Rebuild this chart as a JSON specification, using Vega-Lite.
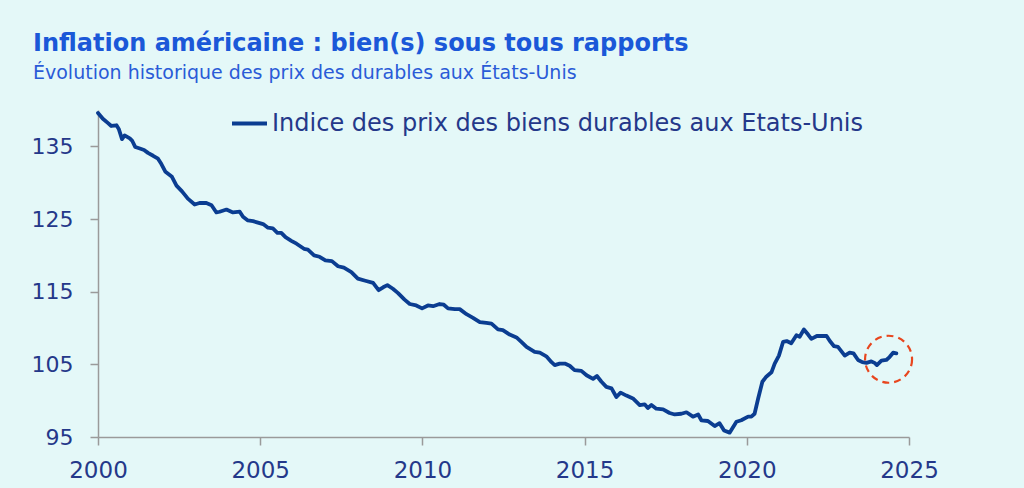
{
  "$schema": "https://vega.github.io/schema/vega-lite/v6.json",
  "width": 811,
  "height": 327,
  "autosize": "none",
  "padding": {"left": 98, "top": 110, "right": 115, "bottom": 51},
  "background": "#e4f8f8",
  "title": {
    "text": "Inflation américaine : bien(s) sous tous rapports",
    "subtitle": "Évolution historique des prix des durables aux États-Unis",
    "anchor": "start",
    "frame": "group",
    "dx": -65,
    "offset": 21,
    "font": "DejaVu Sans",
    "fontSize": 24,
    "fontWeight": "bold",
    "color": "#1b58d8",
    "subtitleFont": "DejaVu Sans",
    "subtitleFontSize": 19,
    "subtitleColor": "#2a5bd7",
    "subtitlePadding": 8
  },
  "config": {"view": {"stroke": null}},
  "layer": [
    {
      "data": {"values": [
        {"annee": 2000.0, "indice": 139.6},
        {"annee": 2000.15, "indice": 138.8},
        {"annee": 2000.31, "indice": 138.2},
        {"annee": 2000.41, "indice": 137.8},
        {"annee": 2000.57, "indice": 137.9},
        {"annee": 2000.64, "indice": 137.4},
        {"annee": 2000.74, "indice": 136.0},
        {"annee": 2000.82, "indice": 136.5},
        {"annee": 2000.98, "indice": 136.1},
        {"annee": 2001.05, "indice": 135.8},
        {"annee": 2001.15, "indice": 134.9},
        {"annee": 2001.29, "indice": 134.7},
        {"annee": 2001.42, "indice": 134.5},
        {"annee": 2001.54, "indice": 134.1},
        {"annee": 2001.70, "indice": 133.7},
        {"annee": 2001.85, "indice": 133.3},
        {"annee": 2001.95, "indice": 132.6},
        {"annee": 2002.08, "indice": 131.5},
        {"annee": 2002.28, "indice": 130.8},
        {"annee": 2002.42, "indice": 129.6},
        {"annee": 2002.59, "indice": 128.8},
        {"annee": 2002.77, "indice": 127.8},
        {"annee": 2002.98, "indice": 127.0},
        {"annee": 2003.13, "indice": 127.2},
        {"annee": 2003.34, "indice": 127.2},
        {"annee": 2003.50, "indice": 126.9},
        {"annee": 2003.65, "indice": 125.9},
        {"annee": 2003.75, "indice": 126.0},
        {"annee": 2003.96, "indice": 126.3},
        {"annee": 2004.16, "indice": 125.9},
        {"annee": 2004.37, "indice": 126.0},
        {"annee": 2004.47, "indice": 125.3},
        {"annee": 2004.62, "indice": 124.8},
        {"annee": 2004.78, "indice": 124.7},
        {"annee": 2004.93, "indice": 124.5},
        {"annee": 2005.09, "indice": 124.3},
        {"annee": 2005.24, "indice": 123.8},
        {"annee": 2005.39, "indice": 123.7},
        {"annee": 2005.53, "indice": 123.1},
        {"annee": 2005.65, "indice": 123.1},
        {"annee": 2005.78, "indice": 122.5},
        {"annee": 2005.96, "indice": 122.0},
        {"annee": 2006.12, "indice": 121.6},
        {"annee": 2006.35, "indice": 120.9},
        {"annee": 2006.47, "indice": 120.8},
        {"annee": 2006.66, "indice": 120.0},
        {"annee": 2006.83, "indice": 119.8},
        {"annee": 2007.01, "indice": 119.3},
        {"annee": 2007.21, "indice": 119.2},
        {"annee": 2007.40, "indice": 118.5},
        {"annee": 2007.58, "indice": 118.3},
        {"annee": 2007.81, "indice": 117.7},
        {"annee": 2008.01, "indice": 116.8},
        {"annee": 2008.24, "indice": 116.5},
        {"annee": 2008.48, "indice": 116.2},
        {"annee": 2008.65, "indice": 115.2},
        {"annee": 2008.79, "indice": 115.6},
        {"annee": 2008.92, "indice": 115.9},
        {"annee": 2009.09, "indice": 115.4},
        {"annee": 2009.25, "indice": 114.8},
        {"annee": 2009.45, "indice": 113.9},
        {"annee": 2009.61, "indice": 113.3},
        {"annee": 2009.81, "indice": 113.1},
        {"annee": 2009.99, "indice": 112.7},
        {"annee": 2010.17, "indice": 113.1},
        {"annee": 2010.33, "indice": 113.0},
        {"annee": 2010.53, "indice": 113.3},
        {"annee": 2010.66, "indice": 113.2},
        {"annee": 2010.79, "indice": 112.7},
        {"annee": 2011.00, "indice": 112.6},
        {"annee": 2011.15, "indice": 112.6},
        {"annee": 2011.36, "indice": 111.9},
        {"annee": 2011.56, "indice": 111.4},
        {"annee": 2011.77, "indice": 110.8},
        {"annee": 2011.97, "indice": 110.7},
        {"annee": 2012.13, "indice": 110.6},
        {"annee": 2012.33, "indice": 109.8},
        {"annee": 2012.48, "indice": 109.7},
        {"annee": 2012.69, "indice": 109.1},
        {"annee": 2012.90, "indice": 108.7},
        {"annee": 2013.05, "indice": 108.1},
        {"annee": 2013.21, "indice": 107.4},
        {"annee": 2013.46, "indice": 106.7},
        {"annee": 2013.62, "indice": 106.6},
        {"annee": 2013.82, "indice": 106.1},
        {"annee": 2013.98, "indice": 105.3},
        {"annee": 2014.08, "indice": 104.9},
        {"annee": 2014.23, "indice": 105.1},
        {"annee": 2014.39, "indice": 105.1},
        {"annee": 2014.54, "indice": 104.8},
        {"annee": 2014.69, "indice": 104.2},
        {"annee": 2014.90, "indice": 104.1},
        {"annee": 2015.06, "indice": 103.5},
        {"annee": 2015.26, "indice": 103.0},
        {"annee": 2015.38, "indice": 103.4},
        {"annee": 2015.52, "indice": 102.6},
        {"annee": 2015.67, "indice": 101.9},
        {"annee": 2015.83, "indice": 101.7},
        {"annee": 2015.98, "indice": 100.5},
        {"annee": 2016.11, "indice": 101.1},
        {"annee": 2016.29, "indice": 100.7},
        {"annee": 2016.49, "indice": 100.3},
        {"annee": 2016.70, "indice": 99.4},
        {"annee": 2016.85, "indice": 99.5},
        {"annee": 2016.95, "indice": 99.0},
        {"annee": 2017.06, "indice": 99.4},
        {"annee": 2017.21, "indice": 98.9},
        {"annee": 2017.42, "indice": 98.8},
        {"annee": 2017.62, "indice": 98.3},
        {"annee": 2017.78, "indice": 98.1},
        {"annee": 2017.98, "indice": 98.2},
        {"annee": 2018.14, "indice": 98.4},
        {"annee": 2018.34, "indice": 97.8},
        {"annee": 2018.50, "indice": 98.1},
        {"annee": 2018.60, "indice": 97.3},
        {"annee": 2018.80, "indice": 97.2},
        {"annee": 2019.01, "indice": 96.5},
        {"annee": 2019.16, "indice": 96.9},
        {"annee": 2019.30, "indice": 95.9},
        {"annee": 2019.47, "indice": 95.6},
        {"annee": 2019.68, "indice": 97.1},
        {"annee": 2019.83, "indice": 97.3},
        {"annee": 2020.04, "indice": 97.8},
        {"annee": 2020.14, "indice": 97.8},
        {"annee": 2020.24, "indice": 98.2},
        {"annee": 2020.35, "indice": 100.3},
        {"annee": 2020.48, "indice": 102.6},
        {"annee": 2020.60, "indice": 103.3},
        {"annee": 2020.76, "indice": 103.9},
        {"annee": 2020.86, "indice": 105.1},
        {"annee": 2020.99, "indice": 106.2},
        {"annee": 2021.12, "indice": 108.1},
        {"annee": 2021.23, "indice": 108.2},
        {"annee": 2021.37, "indice": 107.9},
        {"annee": 2021.53, "indice": 109.0},
        {"annee": 2021.63, "indice": 108.8},
        {"annee": 2021.76, "indice": 109.8},
        {"annee": 2021.89, "indice": 109.1},
        {"annee": 2021.99, "indice": 108.5},
        {"annee": 2022.16, "indice": 108.9},
        {"annee": 2022.30, "indice": 108.9},
        {"annee": 2022.46, "indice": 108.9},
        {"annee": 2022.56, "indice": 108.2},
        {"annee": 2022.69, "indice": 107.5},
        {"annee": 2022.81, "indice": 107.4},
        {"annee": 2023.02, "indice": 106.2},
        {"annee": 2023.17, "indice": 106.6},
        {"annee": 2023.29, "indice": 106.5},
        {"annee": 2023.43, "indice": 105.6},
        {"annee": 2023.56, "indice": 105.3},
        {"annee": 2023.69, "indice": 105.2},
        {"annee": 2023.84, "indice": 105.4},
        {"annee": 2023.94, "indice": 105.2},
        {"annee": 2024.01, "indice": 104.9},
        {"annee": 2024.15, "indice": 105.5},
        {"annee": 2024.30, "indice": 105.6},
        {"annee": 2024.40, "indice": 106.0},
        {"annee": 2024.51, "indice": 106.6},
        {"annee": 2024.61, "indice": 106.5}
      ]},
      "mark": {"type": "line", "strokeWidth": 3.8, "strokeJoin": "round", "strokeCap": "round"},
      "encoding": {
        "x": {
          "field": "annee", "type": "quantitative",
          "scale": {"domain": [2000, 2025], "nice": false, "zero": false},
          "axis": {
            "title": null, "values": [2000, 2005, 2010, 2015, 2020, 2025], "format": "d",
            "grid": false, "domainColor": "#9a9a9a", "tickColor": "#9a9a9a", "domainWidth": 1.5, "tickWidth": 1.5,
            "tickSize": 8, "labelPadding": 14, "labelFont": "DejaVu Sans", "labelFontSize": 23,
            "labelColor": "#24388a", "labelFlush": false
          }
        },
        "y": {
          "field": "indice", "type": "quantitative",
          "scale": {"domain": [95, 140], "nice": false, "zero": false},
          "axis": {
            "title": null, "values": [95, 105, 115, 125, 135],
            "grid": false, "domainColor": "#9a9a9a", "tickColor": "#9a9a9a", "domainWidth": 1.5, "tickWidth": 1.5,
            "tickSize": 8, "labelPadding": 17, "labelFont": "DejaVu Sans", "labelFontSize": 22,
            "labelColor": "#24388a", "labelFlush": false
          }
        },
        "color": {
          "datum": "Indice des prix des biens durables aux Etats-Unis",
          "type": "nominal",
          "scale": {"range": ["#0b3d91"]},
          "legend": {
            "title": null, "orient": "none", "legendX": 132, "legendY": -6,
            "symbolType": "stroke", "symbolSize": 1225, "symbolStrokeWidth": 4,
            "labelFont": "DejaVu Sans", "labelFontSize": 24, "labelColor": "#24388a",
            "labelOffset": 3, "labelLimit": 0, "padding": 0
          }
        }
      }
    },
    {
      "data": {"values": [{"annee": 2024.37, "indice": 105.7}]},
      "mark": {"type": "point", "shape": "circle", "filled": false, "size": 2209, "stroke": "#e8461e", "strokeWidth": 2.2, "strokeDash": [7, 5], "opacity": 1},
      "encoding": {
        "x": {"field": "annee", "type": "quantitative"},
        "y": {"field": "indice", "type": "quantitative"}
      }
    }
  ]
}
